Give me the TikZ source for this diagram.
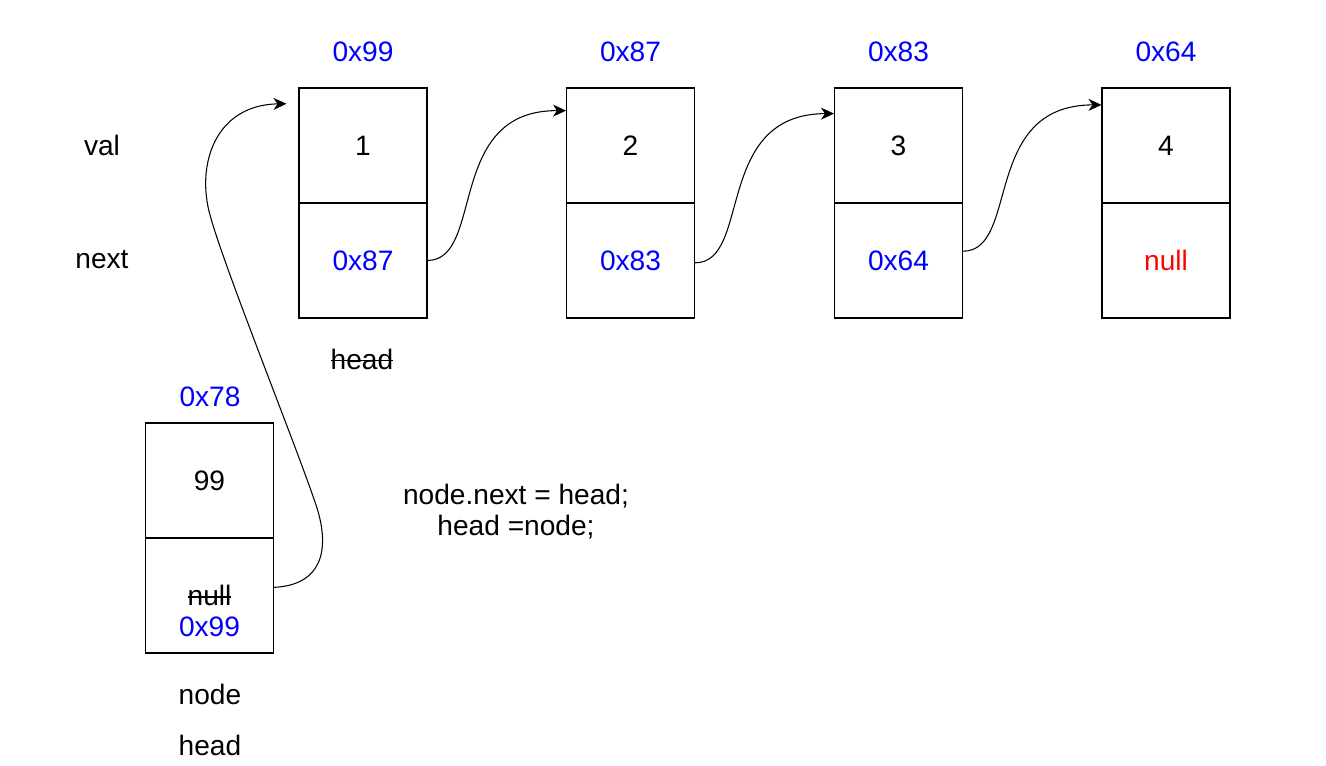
\documentclass[tikz,border=0pt]{standalone}
\usepackage{fontspec}
\setmainfont{Liberation Sans}
\usepackage{xcolor}
\usepackage{tikz}
\usetikzlibrary{arrows.meta,calc}
\definecolor{addrblue}{RGB}{0,0,255}
\definecolor{nullred}{RGB}{255,0,0}
\newcommand{\strikeword}[1]{\setbox0\hbox{#1}\rlap{#1}\rule[0.27em]{\wd0}{1.1pt}}

\begin{document}
\begin{tikzpicture}[
    x=0.02cm, y=-0.02cm,
    every node/.style={font=\fontsize{16}{17.6}\selectfont},
    cell/.style={draw, line width=0.6pt, minimum width=2.56cm, minimum height=2.3cm, inner sep=0pt},
    addr/.style={text=addrblue},
    label/.style={inner sep=1pt},
    link/.style={-{Stealth[length=2.6mm, width=2.4mm, inset=0.8mm]}, line width=0.6pt},
]
    \useasboundingbox (0,0) rectangle (1326,766);

    % list
    \node[cell] (v1) at (363,145.5) {1};
    \node[cell, addr] (n1) at (363,260.5) {0x87};
    \node[cell] (v2) at (630.5,145.5) {2};
    \node[cell, addr] (n2) at (630.5,260.5) {0x83};
    \node[cell] (v3) at (898.5,145.5) {3};
    \node[cell, addr] (n3) at (898.5,260.5) {0x64};
    \node[cell] (v4) at (1166,145.5) {4};
    \node[cell, text=nullred] (n4) at (1166,260.5) {null};

    \node[label, addr] (a1) at (363,52) {0x99};
    \node[label, addr] (a2) at (630.5,52) {0x87};
    \node[label, addr] (a3) at (898.5,52) {0x83};
    \node[label, addr] (a4) at (1166,52) {0x64};

    \node[label] (valtxt) at (102,145) {val};
    \node[label] (nexttxt) at (102,260) {next};
    \node[label] (oldhead) at (362,359) {\strikeword{head}};

    % new node
    \node[cell] (v0) at (209.5,480.5) {99};
    \node[cell] (n0) at (209.5,595.5) {};
    \node[label, align=center] (n0txt) at (209.5,611) {\strikeword{null}\\\textcolor{addrblue}{0x99}};
    \node[label, addr] (a0) at (210,397) {0x78};
    \node[label] (nodetxt) at (210,694) {node};
    \node[label] (headtxt) at (210,745) {head};

    \node[label, align=center] (code) at (516,512) {node.next = head;\\head =node;};

    \draw[link] ($(n1.north east)!0.5!(n1.south east)$) .. controls (485,260) and (445,110) .. ($(v2.north west)!0.2!(v2.south west)$);
    \draw[link] ($(n2.north east)!0.52!(n2.south east)$) .. controls (752,263) and (713,114) .. ($(v3.north west)!0.225!(v3.south west)$);
    \draw[link] ($(n3.north east)!0.42!(n3.south east)$) .. controls (1020,251) and (981,105) .. ($(v4.north west)!0.15!(v4.south west)$);
    \draw[link] ($(n0.north east)!0.43!(n0.south east)$) .. controls (322,585) and (330,550) .. (317,508)
        .. controls (298,450) and (225,270) .. (210,215)
        .. controls (196,165) and (215,105) .. ($(v1.north west)!0.14!(v1.south west)+(-12,0)$);
\end{tikzpicture}
\end{document}
